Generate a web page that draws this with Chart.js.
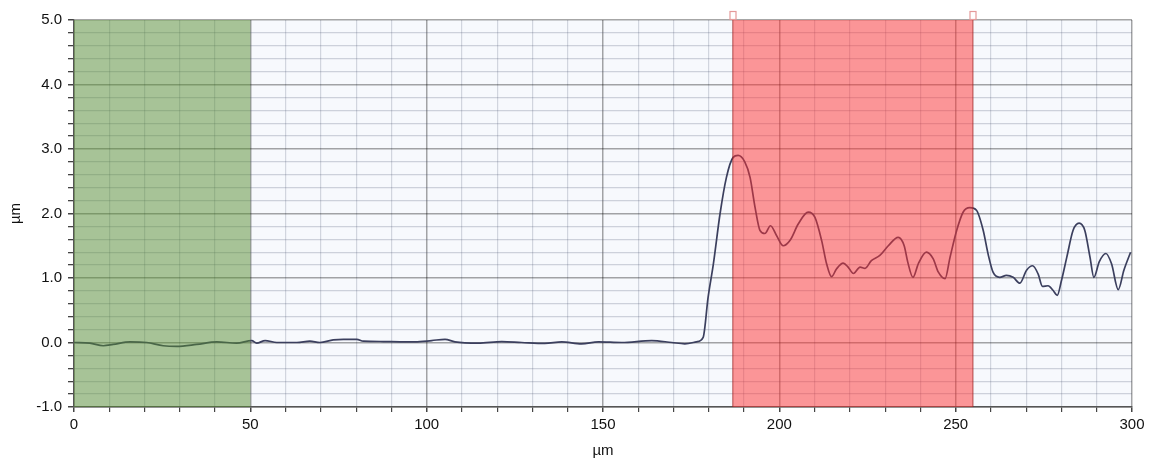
<!DOCTYPE html>
<html>
<head>
<meta charset="utf-8">
<script src="https://cdn.jsdelivr.net/npm/chart.js@4.4.1/dist/chart.umd.min.js"></script>
<style>
  html, body { margin: 0; padding: 0; background: #ffffff; }
  #wrap { width: 1151px; height: 460px; }
</style>
</head>
<body>
<div id="wrap"><canvas id="profileChart" width="1151" height="460"></canvas></div>
<script>
// profile position (um) and height (um)
const profileX = [
  0, 4.5, 8.3, 11.1, 15.9, 20.6, 25.3, 29.1, 34.8, 40.5, 46.1, 50.4, 51.8, 54.2, 57.5,
  63.2, 66.9, 69.7, 73.5, 76.4, 80.2, 82.0, 87.7, 92.4, 96.7, 101.4, 105.2, 108.0, 114.6,
  121.3, 126.9, 133.5, 138.3, 143.9, 148.7, 155.3, 163.8, 169.5, 173.2, 176.5, 178.4,
  179.8, 181.3, 183.2, 185.0, 186.9, 188.3, 190.2, 191.7, 193.1, 194.5, 195.9, 197.5,
  199.2, 201.1, 203.0, 205.4, 208.2, 210.1, 212.0, 213.4, 214.8, 216.2, 218.1, 219.5,
  221.0, 222.9, 224.3, 226.1, 228.5, 230.9, 233.7, 235.4, 236.4, 237.9, 239.4, 241.7,
  243.6, 245.1, 247.0, 248.4, 250.3, 252.1, 254.0, 255.9, 257.8, 259.2, 260.6, 262.5,
  264.4, 266.3, 268.2, 270.1, 271.8, 273.4, 274.6, 276.2, 277.6, 278.8, 280.0, 281.5,
  283.3, 285.0, 286.6, 288.1, 289.2, 290.7, 292.6, 294.2, 296.1, 297.7, 299.6
];
const profileY = [
  0.0, -0.01, -0.05, -0.03, 0.01, 0.0, -0.05, -0.06, -0.03, 0.01, -0.01, 0.03, -0.01, 0.03, 0.0,
  0.0, 0.02, 0.0, 0.04, 0.05, 0.05, 0.02, 0.015, 0.01, 0.01, 0.03, 0.05, 0.01, -0.01,
  0.015, 0.0, -0.015, 0.01, -0.02, 0.01, 0.0, 0.03, 0.0, -0.02, 0.01, 0.08,
  0.70, 1.22, 2.0, 2.56, 2.87, 2.90, 2.80, 2.56, 2.10, 1.74, 1.69, 1.81,
  1.66, 1.50, 1.58, 1.84, 2.02, 1.94, 1.58, 1.22, 1.02, 1.14, 1.23, 1.17,
  1.07, 1.17, 1.15, 1.27, 1.35, 1.50, 1.63, 1.50, 1.25, 1.01, 1.22, 1.40,
  1.30, 1.09, 0.99, 1.32, 1.74, 2.02, 2.09, 2.05, 1.74, 1.37, 1.09, 1.01,
  1.04, 1.01, 0.92, 1.12, 1.19, 1.06, 0.87, 0.88, 0.81, 0.73, 0.96, 1.32,
  1.74, 1.85, 1.74, 1.32, 1.01, 1.25, 1.38, 1.22, 0.82, 1.12, 1.40
];

// reference (green) and measurement (red) ranges, um
const greenBand = [0, 50];
const redBand = [186.8, 254.9];

const xTickLabels = [0, 50, 100, 150, 200, 250, 300];
const yTickLabels = [-1, 0, 1, 2, 3, 4, 5];

const FONT = "'Liberation Sans', Arial, sans-serif";

const isMajorY = v => yTickLabels.some(t => Math.abs(t - v) < 1e-6);
const isMajorX = v => xTickLabels.some(t => Math.abs(t - v) < 1e-6);

const bandPlugin = {
  id: 'bands',
  beforeDraw(chart) {
    const { ctx, chartArea: a } = chart;
    ctx.save();
    ctx.fillStyle = '#f7f9fd';
    ctx.fillRect(a.left, a.top, a.right - a.left, a.bottom - a.top);
    ctx.restore();
  },
  afterDatasetsDraw(chart) {
    const { ctx, chartArea: a, scales: { x } } = chart;
    const h = a.bottom - a.top;
    ctx.save();
    let x0 = x.getPixelForValue(greenBand[0]);
    let x1 = x.getPixelForValue(greenBand[1]);
    ctx.fillStyle = 'rgba(88,142,50,0.5)';
    ctx.fillRect(x0, a.top, x1 - x0, h);

    x0 = x.getPixelForValue(redBand[0]);
    x1 = x.getPixelForValue(redBand[1]);
    ctx.fillStyle = 'rgba(255,50,50,0.5)';
    ctx.fillRect(x0, a.top, x1 - x0, h);
    ctx.strokeStyle = 'rgba(150,30,30,0.6)';
    ctx.lineWidth = 1.2;
    ctx.beginPath();
    ctx.moveTo(x0, a.top); ctx.lineTo(x0, a.bottom);
    ctx.moveTo(x1, a.top); ctx.lineTo(x1, a.bottom);
    ctx.stroke();
    ctx.restore();
  },
  afterDraw(chart) {
    const { ctx, chartArea: a, scales: { x } } = chart;
    ctx.save();
    ctx.strokeStyle = '#e49a9a';
    ctx.fillStyle = '#ffffff';
    ctx.lineWidth = 1.2;
    redBand.forEach(v => {
      const px = Math.round(x.getPixelForValue(v));
      ctx.fillRect(px - 3.5, a.top - 9, 7, 8);
      ctx.strokeRect(px - 3, a.top - 8.5, 6, 8);
    });
    ctx.restore();
  }
};

new Chart(document.getElementById('profileChart'), {
  type: 'line',
  data: {
    datasets: [{
      data: profileX.map((v, i) => ({ x: v, y: profileY[i] })),
      borderColor: '#3b3f5e',
      borderWidth: 1.7,
      pointRadius: 0,
      fill: false,
      cubicInterpolationMode: 'monotone'
    }]
  },
  options: {
    responsive: false,
    animation: false,
    layout: { padding: { top: 20, right: 19, left: 0, bottom: 0 } },
    plugins: { legend: { display: false }, tooltip: { enabled: false } },
    scales: {
      x: {
        type: 'linear',
        min: 0, max: 300,
        afterFit: s => { s.height = 53; },
        ticks: {
          stepSize: 10,
          autoSkip: false,
          maxRotation: 0,
          padding: 4,
          color: '#111',
          font: { family: FONT, size: 15 },
          callback: v => isMajorX(v) ? String(v) : ''
        },
        grid: {
          color: c => isMajorX(c.tick.value) ? 'rgba(0,0,0,0.35)' : 'rgba(60,70,100,0.2)',
          lineWidth: c => isMajorX(c.tick.value) ? 1.5 : 1.2,
          tickLength: 5,
          tickColor: '#444'
        },
        border: { color: '#555', width: 1.5 },
        title: {
          display: true, text: 'µm', color: '#111',
          font: { family: FONT, size: 15 },
          padding: { top: 0, bottom: 0 }
        }
      },
      y: {
        type: 'linear',
        min: -1, max: 5,
        afterFit: s => { s.width = 74; },
        ticks: {
          stepSize: 0.2,
          autoSkip: false,
          padding: 6,
          color: '#111',
          font: { family: FONT, size: 15 },
          callback: v => isMajorY(v) ? Number(v).toFixed(1) : ''
        },
        grid: {
          color: c => isMajorY(c.tick.value) ? 'rgba(0,0,0,0.35)' : 'rgba(60,70,100,0.22)',
          lineWidth: c => isMajorY(c.tick.value) ? 1.5 : 1.3,
          tickLength: 6,
          tickColor: '#444'
        },
        border: { color: '#555', width: 1.5 },
        title: {
          display: true, text: 'µm', color: '#111',
          font: { family: FONT, size: 15 },
          padding: { top: 7, bottom: 0 }
        }
      }
    }
  },
  plugins: [bandPlugin]
});
</script>
</body>
</html>
